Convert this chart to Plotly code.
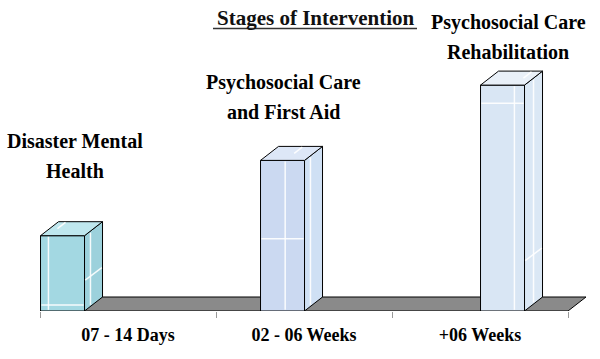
import plotly.graph_objects as go

# ---- data ----
categories = ["07 - 14 Days", "02 - 06 Weeks", "+06 Weeks"]
stage_labels = ["Disaster Mental<br>Health",
                "Psychosocial Care<br>and First Aid",
                "Psychosocial Care<br>Rehabilitation"]
values = [1, 2, 3]
title_text = "Stages of Intervention"

# ---- styling / layout constants ----
W, H = 600, 359
PXU = 176.0          # pixels per x unit (one category band)
PXV = 75.3           # pixels per y unit
X0PX = 40            # pixel of x = 0
BASEPX = 311         # pixel row of y = 0
BAR_W = 0.25         # bar width in x units
DX = 18 / PXU        # depth offset (x units)
DY = 14 / PXV        # depth offset (y units)
front_colors = ["#a3d8e2", "#cbd9f1", "#d9e6f4"]
side_colors = ["#9cd1dc", "#cfe0f4", "#dbe8f5"]
top_colors = ["#bfe7ee", "#dde7f7", "#e9f0f8"]
# glass highlight placement (fractions): front vertical, front horizontal,
# side vertical, side horizontal (None = not drawn)
glass = [(0.18, 0.08, 0.33, 0.40),
         (0.56, 0.48, 0.33, None),
         (0.77, 0.92, 0.50, 0.22)]
label_px = [(75, 156), (283, 97), (508, 37)]   # text block centres (pixels)
FONT = "Liberation Serif"


def px2x(p):
    return (p - X0PX) / PXU


def px2y(p):
    return (BASEPX - p) / PXV


n = len(values)
bar_x = [i * 1.25 + 0.128 for i in range(n)]
band_centres = [i + 0.5 for i in range(n)]

fig = go.Figure()

# front faces
fig.add_trace(go.Bar(
    x=bar_x, y=values, width=BAR_W,
    marker=dict(color=front_colors, line=dict(color="black", width=1)),
    hoverinfo="skip", showlegend=False))

# side & top faces
for i, v in enumerate(values):
    xl = bar_x[i] - BAR_W / 2
    xr = bar_x[i] + BAR_W / 2
    fig.add_trace(go.Scatter(
        x=[xr, xr + DX, xr + DX, xr, xr], y=[0, DY, v + DY, v, 0],
        mode="lines", fill="toself", fillcolor=side_colors[i],
        line=dict(color="black", width=1), hoverinfo="skip", showlegend=False))
    fig.add_trace(go.Scatter(
        x=[xl, xl + DX, xr + DX, xr, xl], y=[v, v + DY, v + DY, v, v],
        mode="lines", fill="toself", fillcolor=top_colors[i],
        line=dict(color="black", width=1), hoverinfo="skip", showlegend=False))
    # glass highlight lines
    fv, fh, sv, sh = glass[i]
    gx, gy = [], []
    xv = xl + fv * BAR_W
    gx += [xv, xv, None]
    gy += [0.015, v - 0.015, None]
    gx += [xl + 0.005, xr - 0.005, None]
    gy += [fh * v, fh * v, None]
    xs = xr + sv * DX
    gx += [xs, xs, None]
    gy += [sv * DY + 0.02, v + sv * DY - 0.02, None]
    if sh is not None:
        gx += [xr + 0.004, xr + DX - 0.004, None]
        gy += [sh * v + 0.01, sh * v + DY - 0.01, None]
    # top face highlight
    gx += [xv + DX * 0.5, xv + DX * 0.95, None]
    gy += [v + DY * 0.5, v + DY * 0.95, None]
    fig.add_trace(go.Scatter(
        x=gx, y=gy, mode="lines",
        line=dict(color="rgba(255,255,255,0.9)", width=1.5),
        hoverinfo="skip", showlegend=False))

# floor
floor_right = n
fig.add_shape(type="path", layer="below",
              path=f"M 0 0 L {floor_right} 0 L {floor_right + DX} {DY} L {DX} {DY} Z",
              fillcolor="#8a8a8a", line=dict(color="black", width=1))

# stage labels
for i, lab in enumerate(stage_labels):
    cx, cy = label_px[i]
    lines = lab.split("<br>")
    for j, ln in enumerate(lines):
        py = cy + (j - (len(lines) - 1) / 2) * 30
        fig.add_annotation(x=px2x(cx), y=px2y(py), text=f"<b>{ln}</b>", showarrow=False,
                           xanchor="center", yanchor="middle",
                           font=dict(family=FONT, size=20, color="black"))

# title
fig.add_annotation(x=315 / W, y=1 - 21 / H, xref="paper", yref="paper",
                   text=f"<b>{title_text}</b>", showarrow=False,
                   xanchor="center", yanchor="middle",
                   font=dict(family=FONT, size=21, color="#111111"))
fig.add_shape(type="line", xref="paper", yref="paper",
              x0=213 / W, x1=417 / W, y0=1 - 33 / H, y1=1 - 33 / H,
              line=dict(color="#333333", width=1.5))

fig.update_layout(
    width=W, height=H,
    margin=dict(l=0, r=0, t=0, b=H - BASEPX),
    paper_bgcolor="white", plot_bgcolor="white",
    showlegend=False,
    font=dict(family=FONT, color="black"),
    xaxis=dict(range=[px2x(0), px2x(W)], tickmode="array",
               tickvals=band_centres, ticktext=[f"<b>{c}</b>" for c in categories],
               ticks="outside", ticklen=0, tickcolor="rgba(0,0,0,0)",
               ticklabelstandoff=7,
               tickfont=dict(family=FONT, size=18, color="black"),
               minor=dict(tickmode="array", tickvals=list(range(n + 1)),
                          ticks="outside", ticklen=6, tickcolor="#999999", tickwidth=1),
               showgrid=False, zeroline=False, showline=False, automargin=False,
               fixedrange=True),
    yaxis=dict(range=[0, BASEPX / PXV], visible=False, showgrid=False,
               zeroline=False, automargin=False, fixedrange=True),
)

fig.write_html("out.html", config={"displayModeBar": False},
               post_script="document.body.style.margin='0';document.body.style.overflow='hidden';")
